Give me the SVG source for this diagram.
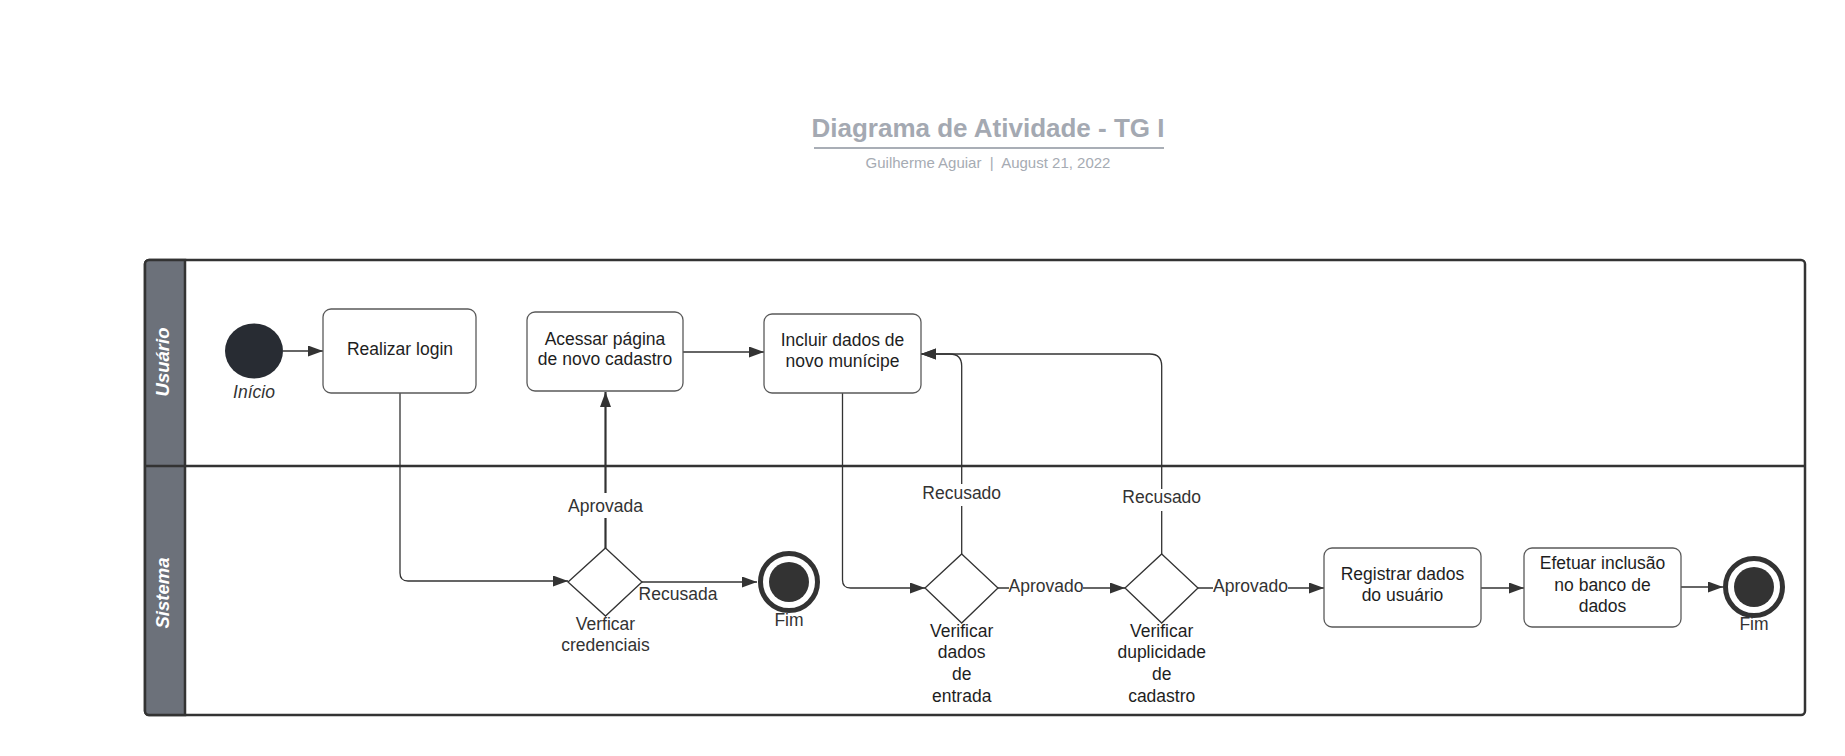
<svg xmlns="http://www.w3.org/2000/svg" width="1845" height="756" viewBox="0 0 1845 756">
<defs>
<style>
.box{fill:#fff;stroke:#5a5a5a;stroke-width:1.3}
.bt{font-family:"Liberation Sans",Arial,sans-serif;font-size:17.5px;fill:#1e1e1e;text-anchor:middle}
.lt{font-family:"Liberation Sans",Arial,sans-serif;font-size:17.5px;fill:#333;text-anchor:middle}
.ln{fill:none;stroke:#333;stroke-width:1.3}
.lnt{fill:none;stroke:#333;stroke-width:2.2}
.dia{fill:#fff;stroke:#333;stroke-width:1.3}
.lane{font-family:"Liberation Sans",Arial,sans-serif;font-size:18.5px;font-weight:bold;font-style:italic;fill:#fff;text-anchor:middle}
</style>
<marker id="ah" markerUnits="userSpaceOnUse" markerWidth="16" markerHeight="12" refX="15" refY="5.5" orient="auto">
<path d="M0,0 L15,5.5 L0,11 z" fill="#333"/>
</marker>
</defs>
<rect width="1845" height="756" fill="#fff"/>

<g id="title">
<text x="988" y="137" font-family="Liberation Sans,Arial,sans-serif" font-size="26" font-weight="bold" fill="#a4a9b2" text-anchor="middle">Diagrama de Atividade - TG I</text>
<line x1="814" y1="148" x2="1164" y2="148" stroke="#a9aeb6" stroke-width="2"/>
<text x="988" y="168" font-family="Liberation Sans,Arial,sans-serif" font-size="15" fill="#a6abb3" text-anchor="middle" xml:space="preserve">Guilherme Aguiar  |  August 21, 2022</text>
</g>

<g id="swimlanes">
<rect x="145" y="260" width="1660" height="455" rx="4" fill="#fff" stroke="#333" stroke-width="2.5"/>
<path d="M149,260 H185 V715 H149 A4,4 0 0 1 145,711 V264 A4,4 0 0 1 149,260 z" fill="#6c717a" stroke="#333" stroke-width="2.5"/>
<line x1="145" y1="466" x2="1805" y2="466" stroke="#333" stroke-width="2.5"/>
<text class="lane" transform="translate(169,362) rotate(-90)">Usuário</text>
<text class="lane" transform="translate(169,593) rotate(-90)">Sistema</text>
</g>

<g id="connectors">
<line class="ln" x1="283" y1="351" x2="323" y2="351" marker-end="url(#ah)"/>
<path class="ln" d="M400,393 V573 Q400,581 408,581 H568" marker-end="url(#ah)"/>
<line class="lnt" x1="605.5" y1="548" x2="605.5" y2="392" marker-end="url(#ah)"/>
<line class="ln" x1="642" y1="582" x2="757" y2="582" marker-end="url(#ah)"/>
<line class="ln" x1="683" y1="352" x2="764" y2="352" marker-end="url(#ah)"/>
<path class="ln" d="M842.5,393 V580 Q842.5,588 850.5,588 H925" marker-end="url(#ah)"/>
<path class="ln" d="M961.7,554 V366 Q961.7,354 949.7,354 H921" marker-end="url(#ah)"/>
<path class="ln" d="M1161.7,554 V366 Q1161.7,354 1149.7,354 H921" marker-end="url(#ah)"/>
<line class="ln" x1="998" y1="588" x2="1125" y2="588" marker-end="url(#ah)"/>
<line class="ln" x1="1198" y1="588" x2="1324" y2="588" marker-end="url(#ah)"/>
<line class="ln" x1="1481" y1="588" x2="1524" y2="588" marker-end="url(#ah)"/>
<line class="ln" x1="1681" y1="587" x2="1723" y2="587" marker-end="url(#ah)"/>
<g id="connector-labels">
<rect x="566" y="493" width="80" height="25" fill="#fff"/>
<text class="lt" x="605.5" y="512">Aprovada</text>
<text class="lt" x="678" y="600">Recusada</text>
<rect x="922" y="484" width="80" height="22" fill="#fff"/>
<text class="lt" x="961.7" y="499">Recusado</text>
<rect x="1122" y="489" width="80" height="22" fill="#fff"/>
<text class="lt" x="1161.7" y="503">Recusado</text>
<rect x="1009" y="578" width="74" height="20" fill="#fff"/>
<text class="lt" x="1046" y="592">Aprovado</text>
<rect x="1213" y="578" width="75" height="20" fill="#fff"/>
<text class="lt" x="1250.5" y="592">Aprovado</text>
</g>
</g>

<g id="inicio">
<ellipse cx="254" cy="351" rx="29" ry="27.5" fill="#282c33"/>
<text class="lt" x="254" y="398" font-style="italic">Início</text>
</g>

<g id="realizar-login">
<rect class="box" x="323" y="309" width="153" height="84" rx="8"/>
<text class="bt" x="400" y="355">Realizar login</text>
</g>

<g id="acessar-pagina">
<rect class="box" x="527" y="312" width="156" height="79" rx="8"/>
<text class="bt" x="605" y="345">Acessar página</text>
<text class="bt" x="605" y="365">de novo cadastro</text>
</g>

<g id="incluir-dados">
<rect class="box" x="764" y="314" width="157" height="79" rx="8"/>
<text class="bt" x="842.5" y="346">Incluir dados de</text>
<text class="bt" x="842.5" y="367">novo munícipe</text>
</g>

<g id="verificar-credenciais">
<polygon class="dia" points="605.5,548 642,582 605.5,616 568,582"/>
<text class="lt" x="605.5" y="630">Verficar</text>
<text class="lt" x="605.5" y="651">credenciais</text>
</g>

<g id="fim-1">
<circle cx="789" cy="582" r="28.5" fill="#fff" stroke="#333" stroke-width="5"/>
<circle cx="789" cy="582" r="20" fill="#333"/>
<text class="lt" x="789" y="626">Fim</text>
</g>

<g id="verificar-dados-entrada">
<polygon class="dia" points="961.7,554 998,588 961.7,623 925,588"/>
<text class="bt" x="961.7" y="637">Verificar</text>
<text class="bt" x="961.7" y="658">dados</text>
<text class="bt" x="961.7" y="680">de</text>
<text class="bt" x="961.7" y="702">entrada</text>
</g>

<g id="verificar-duplicidade">
<polygon class="dia" points="1161.7,554 1198,588 1161.7,623 1125,588"/>
<text class="bt" x="1161.7" y="637">Verificar</text>
<text class="bt" x="1161.7" y="658">duplicidade</text>
<text class="bt" x="1161.7" y="680">de</text>
<text class="bt" x="1161.7" y="702">cadastro</text>
</g>

<g id="registrar-dados">
<rect class="box" x="1324" y="548" width="157" height="79" rx="8"/>
<text class="bt" x="1402.5" y="580">Registrar dados</text>
<text class="bt" x="1402.5" y="601">do usuário</text>
</g>

<g id="efetuar-inclusao">
<rect class="box" x="1524" y="548" width="157" height="79" rx="8"/>
<text class="bt" x="1602.5" y="569">Efetuar inclusão</text>
<text class="bt" x="1602.5" y="591">no banco de</text>
<text class="bt" x="1602.5" y="612">dados</text>
</g>

<g id="fim-2">
<circle cx="1754" cy="587" r="28.5" fill="#fff" stroke="#333" stroke-width="5"/>
<circle cx="1754" cy="587" r="20" fill="#333"/>
<text class="lt" x="1754" y="630">Fim</text>
</g>
</svg>
